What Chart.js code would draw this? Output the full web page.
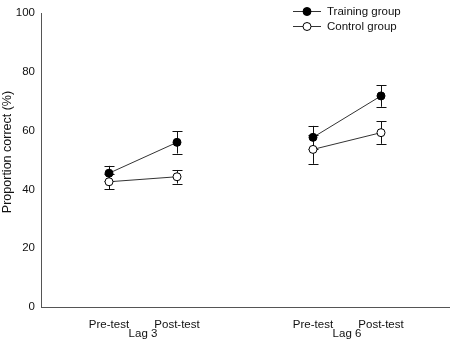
<!DOCTYPE html>
<html>
<head>
<meta charset="utf-8">
<script src="https://cdn.jsdelivr.net/npm/chart.js@4.4.1/dist/chart.umd.min.js"></script>
<style>
  html, body { margin: 0; padding: 0; background: #fff; }
  #wrap { width: 454px; height: 348px; }
</style>
</head>
<body>
<div id="wrap"><canvas id="chart" width="454" height="348"></canvas></div>
<script>
// x positions of the four test points (two lags with a gap between)
const testLabels = ['Pre-test', 'Post-test', 'Pre-test', 'Post-test'];
const testPos = [1, 2, 4, 5];
const lagLabels = ['Lag 3', 'Lag 6'];
const lagPos = [1.5, 4.5];

// values (%)
const trainingMean = [45.5, 56.0, 57.7, 71.8];
const trainingErr = [2.5, 3.8, 3.9, 3.7];
const controlMean = [42.6, 44.3, 53.6, 59.3];
const controlErr = [2.6, 2.3, 4.9, 3.8];

const yTicks = [0, 20, 40, 60, 80, 100];
const yTitle = 'Proportion correct (%)';

const FONT = 'Liberation Sans, Arial, sans-serif';

// pre/post pairs joined, gap between lags
function toPoints(means) {
    return [
        { x: testPos[0], y: means[0] },
        { x: testPos[1], y: means[1] },
        { x: 3, y: null },
        { x: testPos[2], y: means[2] },
        { x: testPos[3], y: means[3] }
    ];
}

const tickLabelFor = {};
testPos.forEach((p, i) => { tickLabelFor[p] = testLabels[i]; });
lagPos.forEach((p, i) => { tickLabelFor[p] = ['', lagLabels[i]]; });

// error bars, drawn under the markers
const errorBars = {
    id: 'errorBars',
    beforeDatasetsDraw(chart) {
        const { ctx, scales: { x, y } } = chart;
        const groups = [[controlMean, controlErr], [trainingMean, trainingErr]];
        ctx.save();
        ctx.strokeStyle = '#111';
        ctx.lineWidth = 1;
        groups.forEach(([means, errs]) => {
            means.forEach((m, i) => {
                const px = Math.round(x.getPixelForValue(testPos[i])) + 0.5;
                const top = y.getPixelForValue(m + errs[i]);
                const bot = y.getPixelForValue(m - errs[i]);
                ctx.beginPath();
                ctx.moveTo(px, top); ctx.lineTo(px, bot);
                ctx.moveTo(px - 5, Math.round(top) + 0.5); ctx.lineTo(px + 5, Math.round(top) + 0.5);
                ctx.moveTo(px - 5, Math.round(bot) + 0.5); ctx.lineTo(px + 5, Math.round(bot) + 0.5);
                ctx.stroke();
            });
        });
        ctx.restore();
    }
};

// legend in the upper right corner + y title (sits a little above centre)
const extras = {
    id: 'extras',
    afterDraw(chart) {
        const ctx = chart.ctx;
        const items = [
            { text: 'Training group', fill: '#000', y: 11 },
            { text: 'Control group', fill: '#fff', y: 26 }
        ];
        ctx.save();
        items.forEach(it => {
            ctx.strokeStyle = '#333';
            ctx.lineWidth = 1;
            ctx.beginPath();
            ctx.moveTo(293, it.y + 0.5); ctx.lineTo(321, it.y + 0.5);
            ctx.stroke();
            ctx.beginPath();
            ctx.arc(307, it.y + 0.5, 4, 0, Math.PI * 2);
            ctx.fillStyle = it.fill;
            ctx.fill();
            ctx.strokeStyle = '#000';
            ctx.stroke();
            ctx.fillStyle = '#111';
            ctx.font = '11.5px ' + FONT;
            ctx.textBaseline = 'middle';
            ctx.fillText(it.text, 327, it.y + 1);
        });

        ctx.translate(8, 152);
        ctx.rotate(-Math.PI / 2);
        ctx.font = '12.5px ' + FONT;
        ctx.textAlign = 'center';
        ctx.textBaseline = 'middle';
        ctx.fillText(yTitle, 0, 0);
        ctx.restore();
    }
};

new Chart(document.getElementById('chart'), {
    type: 'line',
    data: {
        datasets: [
            {
                label: 'Training group',
                data: toPoints(trainingMean),
                borderColor: '#333',
                borderWidth: 1,
                pointRadius: 4,
                pointBackgroundColor: '#000',
                pointBorderColor: '#000',
                pointBorderWidth: 1,
                spanGaps: false
            },
            {
                label: 'Control group',
                data: toPoints(controlMean),
                borderColor: '#333',
                borderWidth: 1,
                pointRadius: 4,
                pointBackgroundColor: '#fff',
                pointBorderColor: '#000',
                pointBorderWidth: 1,
                spanGaps: false
            }
        ]
    },
    options: {
        responsive: false,
        animation: false,
        layout: { padding: { top: 13, right: 2 } },
        plugins: {
            legend: { display: false },
            tooltip: { enabled: false }
        },
        scales: {
            x: {
                type: 'linear',
                min: 0,
                max: 6,
                grid: { display: false, drawTicks: false },
                border: { color: '#555', width: 1 },
                afterBuildTicks: scale => {
                    scale.ticks = testPos.concat(lagPos).sort((a, b) => a - b).map(v => ({ value: v }));
                },
                afterFit: scale => { scale.height = 41; },
                ticks: {
                    autoSkip: false,
                    maxRotation: 0,
                    padding: 13,
                    color: '#111',
                    font: { family: FONT, size: 11.5, lineHeight: 0.8 },
                    callback: v => tickLabelFor[v]
                }
            },
            y: {
                min: 0,
                max: 100,
                grid: { display: false, drawTicks: false },
                border: { color: '#555', width: 1 },
                afterBuildTicks: scale => {
                    scale.ticks = yTicks.map(v => ({ value: v }));
                },
                afterFit: scale => { scale.width = 41; },
                ticks: {
                    padding: 6,
                    color: '#111',
                    font: { family: FONT, size: 11.5 }
                }
            }
        }
    },
    plugins: [errorBars, extras]
});
</script>
</body>
</html>
